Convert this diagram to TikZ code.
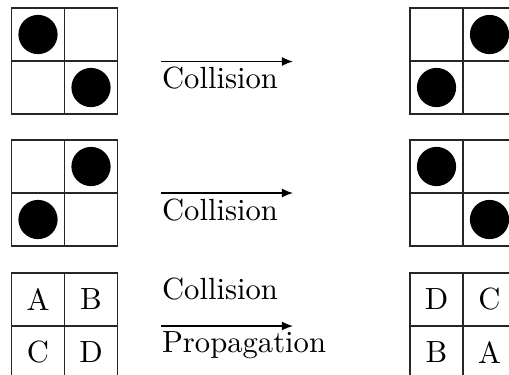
\documentclass[tikz,border=0pt]{standalone}
\usetikzlibrary{arrows.meta}
\begin{document}
\begin{tikzpicture}[x=0.3265pt,y=-0.3265pt,
  cell/.style={draw=black!85, line width=0.55pt, minimum size=17.3pt, inner sep=0pt},
  ball/.style={circle, fill=black, minimum size=12.8pt, inner sep=0pt},
  arr/.style={-{Latex[length=3.6pt,width=2.9pt]}, line width=0.45pt},
  lbl/.style={inner sep=0pt}]
\useasboundingbox (0,0) rectangle (509,374);
\clip (0,0) rectangle (509,374);
% Row 1
\node[cell] (l1a) at (38,34.5) {};
\node[cell] (l1b) at (91,34.5) {};
\node[cell] (l1c) at (38,87.5) {};
\node[cell] (l1d) at (91,87.5) {};
\node[ball] (l1x) at (l1a) {};
\node[ball] (l1y) at (l1d) {};
\node[cell] (r1a) at (436.5,34.5) {};
\node[cell] (r1b) at (489.5,34.5) {};
\node[cell] (r1c) at (436.5,87.5) {};
\node[cell] (r1d) at (489.5,87.5) {};
\node[ball] (r1x) at (r1b) {};
\node[ball] (r1y) at (r1c) {};
\coordinate (s1) at (161,61.5);
\coordinate (e1) at (293,61.5);
\draw[arr] (s1) -- (e1);
\node[lbl, anchor=base west] (t1) at (161.5,88) {Collision};
% Row 2
\node[cell] (l2a) at (38,166.5) {};
\node[cell] (l2b) at (91,166.5) {};
\node[cell] (l2c) at (38,219.5) {};
\node[cell] (l2d) at (91,219.5) {};
\node[ball] (l2x) at (l2b) {};
\node[ball] (l2y) at (l2c) {};
\node[cell] (r2a) at (436.5,166.5) {};
\node[cell] (r2b) at (489.5,166.5) {};
\node[cell] (r2c) at (436.5,219.5) {};
\node[cell] (r2d) at (489.5,219.5) {};
\node[ball] (r2x) at (r2a) {};
\node[ball] (r2y) at (r2d) {};
\coordinate (s2) at (161,193);
\coordinate (e2) at (293,193);
\draw[arr] (s2) -- (e2);
\node[lbl, anchor=base west] (t2) at (161.5,220) {Collision};
% Row 3
\node[cell] (l3a) at (38,299.5) {A};
\node[cell] (l3b) at (91,299.5) {B};
\node[cell] (l3c) at (38,352.5) {C};
\node[cell] (l3d) at (91,352.5) {D};
\node[cell] (r3a) at (436.5,299.5) {D};
\node[cell] (r3b) at (489.5,299.5) {C};
\node[cell] (r3c) at (436.5,352.5) {B};
\node[cell] (r3d) at (489.5,352.5) {A};
\coordinate (s3) at (161,326);
\coordinate (e3) at (293,326);
\draw[arr] (s3) -- (e3);
\node[lbl, anchor=base west] (t3) at (161.5,299) {Collision};
\node[lbl, anchor=base west] (t4) at (161.5,352) {Propagation};
\end{tikzpicture}
\end{document}
